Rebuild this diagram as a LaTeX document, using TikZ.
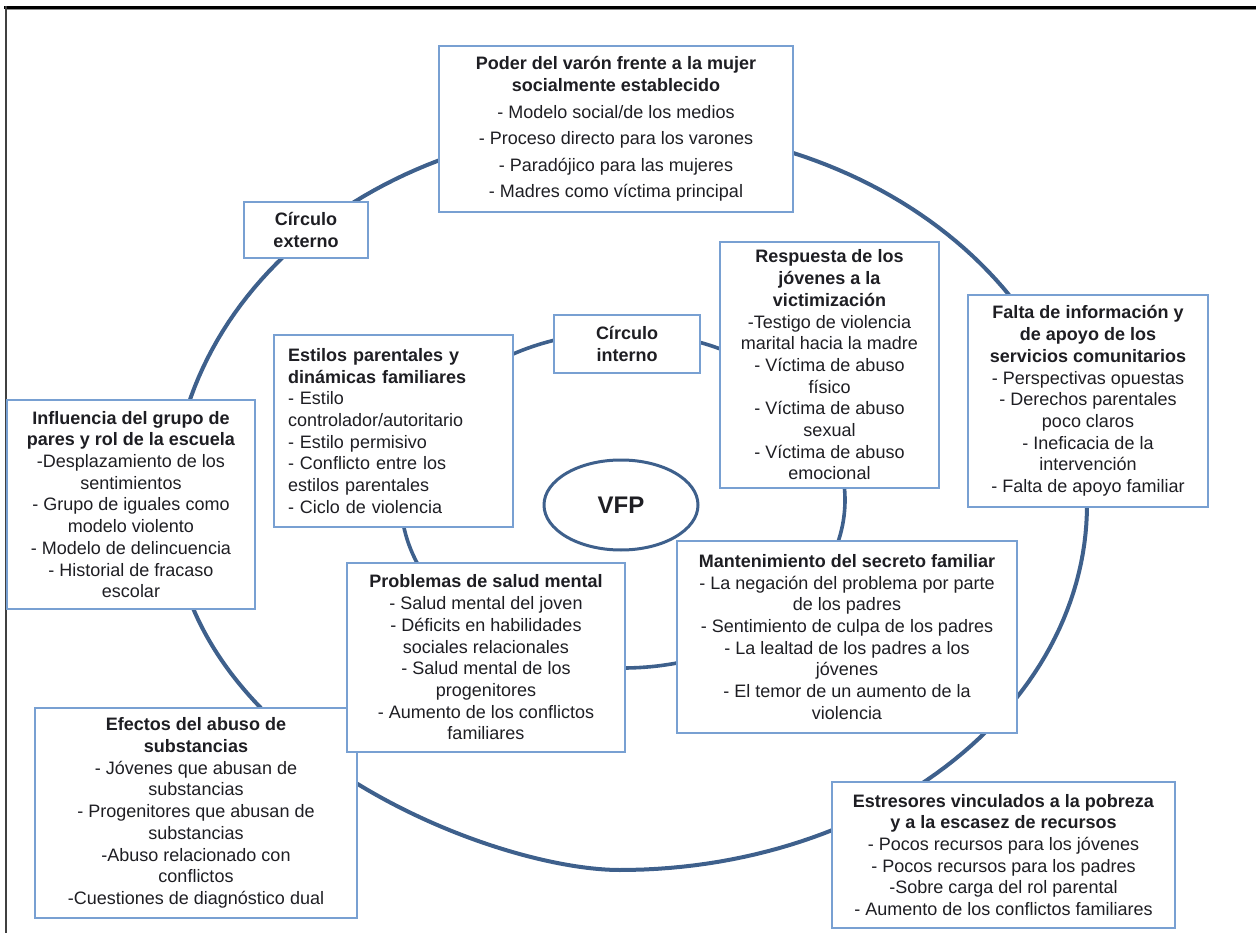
\documentclass[tikz,border=0pt]{standalone}
\usepackage{fontspec}
\setmainfont{Liberation Sans}
\usetikzlibrary{shapes.geometric}
\definecolor{ringblue}{RGB}{62,96,140}
\definecolor{boxblue}{RGB}{120,160,210}
\definecolor{inkdark}{RGB}{30,30,35}
\begin{document}
\begin{tikzpicture}[x=1pt,y=-1pt,
  box/.style={draw=boxblue, line width=1.4pt, fill=white, inner sep=0pt,
    align=center, text=inkdark, font=\fontsize{18}{21.7}\selectfont},
  ring/.style={draw=ringblue, line width=4pt, line join=round}]
\useasboundingbox (0,0) rectangle (1256,933);

% page frame
\draw[line width=3pt, black] (4,7.5) -- (1256,7.5);
\draw[line width=1pt, black!45] (6,9.5) -- (1256,9.5);
\draw[line width=2pt, black!75] (6,6) -- (6,933);

% outer ring: quarter arcs, slightly wider at the top
\draw[ring] plot[domain=0:90, samples=60] ({625+462*cos(\x)},{505-378*sin(\x)})
  -- plot[domain=90:180, samples=60] ({625+453*cos(\x)},{505-378*sin(\x)})
  .. controls (172,745) and (490,870) .. (620,870)
  -- plot[domain=270:360, samples=60] ({620+467*cos(\x)},{505-365*sin(\x)}) -- cycle;

% inner ring
\draw[ring, line width=3.6pt] (623,500) ellipse [x radius=222pt, y radius=168pt];

% centre
\node[draw=ringblue, line width=3pt, ellipse, minimum width=154pt, minimum height=90pt,
  inner sep=0pt, text=inkdark, font=\bfseries\fontsize{24}{28}\selectfont] (vfp) at (621,505) {VFP};

% outer ring factors
\node[box, minimum width=354pt, minimum height=166pt] (poder) at (616,129)
 {\textbf{Poder del varón frente a la mujer}\\\textbf{socialmente establecido}\\[5pt]
  - Modelo social/de los medios\\[4.8pt]
  - Proceso directo para los varones\\[4.8pt]
  - Paradójico para las mujeres\\[4.8pt]
  - Madres como víctima principal};

\node[box, minimum width=124pt, minimum height=56pt] (cext) at (306,230)
 {\textbf{Círculo}\\\textbf{externo}};

\node[box, minimum width=240pt, minimum height=212pt] (falta) at (1088,401)
 {\textbf{Falta de información y}\\\textbf{de apoyo de los}\\\textbf{servicios comunitarios}\\
  - Perspectivas opuestas\\- Derechos parentales\\poco claros\\- Ineficacia de la\\
  intervención\\- Falta de apoyo familiar};

\node[box, minimum width=248pt, minimum height=209pt] (influencia) at (131,504.5)
 {\textbf{Influencia del grupo de}\\\textbf{pares y rol de la escuela}\\
  -Desplazamiento de los\\sentimientos\\- Grupo de iguales como\\modelo violento\\
  - Modelo de delincuencia\\- Historial de fracaso\\escolar};

\node[box, minimum width=322pt, minimum height=210pt] (efectos) at (196,813)
 {\textbf{Efectos del abuso de}\\\textbf{substancias}\\
  - Jóvenes que abusan de\\substancias\\- Progenitores que abusan de\\substancias\\
  -Abuso relacionado con\\conflictos\\-Cuestiones de diagnóstico dual};

\node[box, minimum width=343pt, minimum height=146pt] (estresores) at (1003.5,855)
 {\textbf{Estresores vinculados a la pobreza}\\\textbf{y a la escasez de recursos}\\
  - Pocos recursos para los jóvenes\\- Pocos recursos para los padres\\
  -Sobre carga del rol parental\\- Aumento de los conflictos familiares};

% inner ring factors
\node[box, minimum width=146pt, minimum height=58pt] (cint) at (627,344)
 {\textbf{Círculo}\\\textbf{interno}};

\node[box, align=left, text width=211pt, inner xsep=14pt, minimum height=192pt] (estilos) at (393.5,431)
 {\textbf{Estilos parentales y}\\\textbf{dinámicas familiares}\\
  - Estilo\\controlador/autoritario\\- Estilo permisivo\\- Conflicto entre los\\
  estilos parentales\\- Ciclo de violencia};

\node[box, minimum width=219pt, minimum height=246pt] (respuesta) at (829.5,365)
 {\textbf{Respuesta de los}\\\textbf{jóvenes a la}\\\textbf{victimización}\\
  -Testigo de violencia\\marital hacia la madre\\- Víctima de abuso\\físico\\
  - Víctima de abuso\\sexual\\- Víctima de abuso\\emocional};

\node[box, minimum width=278pt, minimum height=189pt] (problemas) at (486,657.5)
 {\textbf{Problemas de salud mental}\\
  - Salud mental del joven\\- Déficits en habilidades\\sociales relacionales\\
  - Salud mental de los\\progenitores\\- Aumento de los conflictos\\familiares};

\node[box, minimum width=340pt, minimum height=192pt] (mantenimiento) at (847,637)
 {\textbf{Mantenimiento del secreto familiar}\\
  - La negación del problema por parte\\de los padres\\
  - Sentimiento de culpa de los padres\\- La lealtad de los padres a los\\
  jóvenes\\- El temor de un aumento de la\\violencia};
\end{tikzpicture}
\end{document}
